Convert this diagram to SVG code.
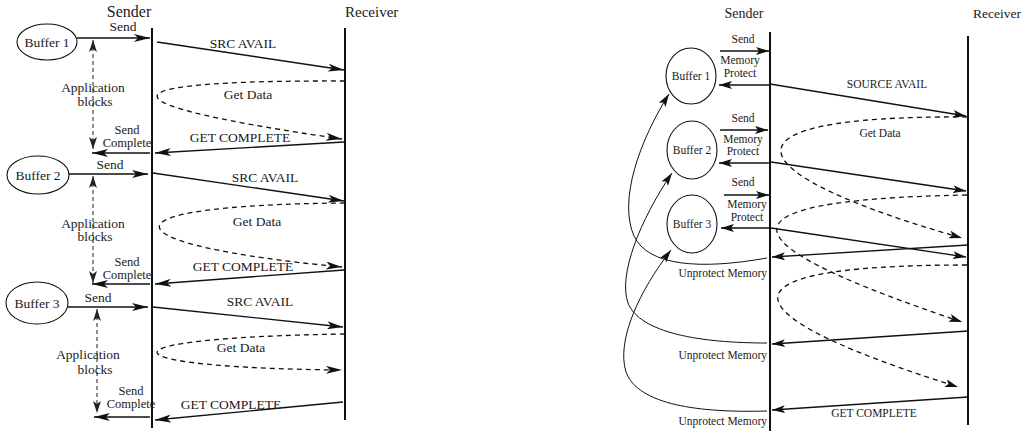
<svg xmlns="http://www.w3.org/2000/svg" width="1025" height="431" viewBox="0 0 1025 431">
<style>
text{font-family:"Liberation Serif","Times New Roman",serif;fill:#1a1a1a}
.L{font-size:13.5px;text-anchor:middle}
.S{font-size:12.5px;text-anchor:middle}
.R{font-size:11.5px;text-anchor:middle}
.H{font-size:15px;text-anchor:middle}
.life{stroke:#111;stroke-width:2;fill:none}
.msgL{stroke:#111;stroke-width:1.4;fill:none;marker-end:url(#aL)}
.msgR{stroke:#111;stroke-width:1.3;fill:none;marker-end:url(#aR)}
.dash{stroke:#111;stroke-width:1.3;fill:none;stroke-dasharray:5 4}
.blk{stroke:#444;stroke-width:1.2;fill:none;stroke-dasharray:4 3;marker-start:url(#aB);marker-end:url(#aB)}
.node{fill:#fff;stroke:#111;stroke-width:1.1}
.thin{stroke:#111;stroke-width:1;fill:none;marker-end:url(#aR)}
</style>
<defs>
<marker id="aL" markerUnits="userSpaceOnUse" markerWidth="16" markerHeight="8" refX="16" refY="4" orient="auto"><path d="M0,0 L16,4 L0,8 L4,4 z" fill="#111"/></marker>
<marker id="aR" markerUnits="userSpaceOnUse" markerWidth="13" markerHeight="8" refX="13" refY="4" orient="auto"><path d="M0,0 L13,4 L0,8 L3,4 z" fill="#111"/></marker>
<marker id="aB" markerUnits="userSpaceOnUse" markerWidth="12" markerHeight="8" refX="12" refY="4" orient="auto-start-reverse"><path d="M0,0 L12,4 L0,8 L3,4 z" fill="#222"/></marker>
</defs>

<!-- LEFT DIAGRAM -->
<g id="left-headers">
<text class="H" x="129" y="17" style="font-size:16px">Sender</text>
<text x="345" y="17" style="font-size:15px">Receiver</text>
</g>
<g id="left-lifelines">
<line class="life" x1="152" y1="28" x2="152" y2="428"/>
<line class="life" x1="345" y1="28" x2="345" y2="420"/>
</g>
<g id="L-buffer1"><ellipse class="node" cx="47" cy="42" rx="30" ry="18"/><text class="L" x="47" y="47">Buffer 1</text></g>
<g id="L-buffer2"><ellipse class="node" cx="38" cy="175" rx="31" ry="19"/><text class="L" x="38" y="180">Buffer 2</text></g>
<g id="L-buffer3"><ellipse class="node" cx="37" cy="303" rx="31" ry="21"/><text class="L" x="37" y="308">Buffer 3</text></g>

<g id="left-connectors">
<line class="msgL" x1="77" y1="38" x2="150" y2="38"/>
<line class="msgL" x1="157" y1="42" x2="344" y2="70"/>
<path class="dash" marker-end="url(#aL)" d="M345,81 C85,80 105,105 342,139"/>
<line class="msgL" x1="344" y1="142" x2="155" y2="153"/>
<line class="msgL" x1="150" y1="153" x2="92" y2="153"/>
<line class="blk" x1="93" y1="40" x2="93" y2="149"/>

<line class="msgL" x1="69" y1="174" x2="148" y2="174"/>
<line class="msgL" x1="153" y1="173" x2="344" y2="201"/>
<path class="dash" marker-end="url(#aL)" d="M345,203 C88,205 108,245 342,267"/>
<line class="msgL" x1="344" y1="270" x2="155" y2="284"/>
<line class="msgL" x1="150" y1="284" x2="92" y2="284"/>
<line class="blk" x1="93" y1="176" x2="93" y2="283"/>

<line class="msgL" x1="68" y1="307" x2="148" y2="307"/>
<line class="msgL" x1="153" y1="307" x2="343" y2="327"/>
<path class="dash" marker-end="url(#aL)" d="M345,334 C85,338 105,368 342,370"/>
<line class="msgL" x1="343" y1="402" x2="155" y2="420"/>
<line class="msgL" x1="150" y1="417" x2="94" y2="417"/>
<line class="blk" x1="97" y1="309" x2="97" y2="413"/>
</g>

<g id="left-labels">
<text class="L" x="123" y="31">Send</text>
<text class="L" x="243" y="48">SRC AVAIL</text>
<text class="L" x="248" y="99">Get Data</text>
<text class="L" x="93" y="92">Application</text>
<text class="L" x="95" y="106">blocks</text>
<text class="L" x="240" y="142">GET COMPLETE</text>
<text class="S" x="127" y="134">Send</text>
<text class="S" x="127" y="147">Complete</text>

<text class="L" x="110" y="169">Send</text>
<text class="L" x="265" y="182">SRC AVAIL</text>
<text class="L" x="257" y="226">Get Data</text>
<text class="L" x="93" y="228">Application</text>
<text class="L" x="95" y="241">blocks</text>
<text class="L" x="243" y="271">GET COMPLETE</text>
<text class="S" x="127" y="266">Send</text>
<text class="S" x="127" y="279">Complete</text>

<text class="L" x="98" y="302">Send</text>
<text class="L" x="260" y="306">SRC AVAIL</text>
<text class="L" x="241" y="352">Get Data</text>
<text class="L" x="88" y="359">Application</text>
<text class="L" x="95" y="374">blocks</text>
<text class="L" x="231" y="409">GET COMPLETE</text>
<text class="S" x="131" y="395">Send</text>
<text class="S" x="131" y="408">Complete</text>
</g>

<!-- RIGHT DIAGRAM -->
<g id="right-headers">
<text x="744" y="18" style="font-size:14px;text-anchor:middle">Sender</text>
<text x="973" y="18" style="font-size:13.5px">Receiver</text>
</g>
<g id="right-lifelines">
<line class="life" x1="770" y1="32" x2="770" y2="431"/>
<line class="life" x1="968" y1="36" x2="968" y2="425"/>
</g>
<g id="R-buffer1"><ellipse class="node" cx="691" cy="76" rx="25" ry="28"/><text class="R" x="691" y="80">Buffer 1</text></g>
<g id="R-buffer2"><ellipse class="node" cx="692" cy="150" rx="25" ry="29"/><text class="R" x="692" y="154">Buffer 2</text></g>
<g id="R-buffer3"><ellipse class="node" cx="692" cy="224" rx="25" ry="29"/><text class="R" x="692" y="228">Buffer 3</text></g>

<g id="right-connectors">
<line class="msgR" x1="720" y1="51" x2="769" y2="51"/>
<line class="msgR" x1="770" y1="85" x2="719" y2="85"/>
<line class="msgR" x1="770" y1="84" x2="966" y2="116"/>
<path class="dash" marker-end="url(#aR)" d="M967,117 C700,115 740,175 962,238"/>

<line class="msgR" x1="720" y1="130" x2="768" y2="130"/>
<line class="msgR" x1="770" y1="163" x2="719" y2="163"/>
<line class="msgR" x1="771" y1="162" x2="966" y2="191"/>
<path class="dash" marker-end="url(#aR)" d="M967,195 C694,200 735,246 962,322"/>

<line class="msgR" x1="724" y1="195" x2="769" y2="195"/>
<line class="msgR" x1="770" y1="228" x2="721" y2="228"/>
<line class="msgR" x1="771" y1="228" x2="966" y2="257"/>
<path class="dash" marker-end="url(#aR)" d="M967,265 C695,265 738,318 958,387"/>

<line class="msgR" x1="968" y1="245" x2="772" y2="257"/>
<line class="msgR" x1="968" y1="331" x2="772" y2="344"/>
<line class="msgR" x1="968" y1="397" x2="772" y2="410"/>

<path class="thin" d="M767,258 C700,270 648,266 634,236 C618,200 640,140 669,94"/>
<path class="thin" d="M767,343 C700,343 640,333 628,303 C618,275 640,220 672,173"/>
<path class="thin" d="M767,411 C700,413 638,405 626,372 C616,340 640,290 671,250"/>
</g>

<g id="right-labels">
<text class="R" x="743" y="43">Send</text>
<text class="R" x="740" y="64">Memory</text>
<text class="R" x="740" y="77">Protect</text>
<text class="R" x="887" y="88">SOURCE AVAIL</text>
<text class="R" x="880" y="137">Get Data</text>
<text class="R" x="743" y="122">Send</text>
<text class="R" x="743" y="143">Memory</text>
<text class="R" x="743" y="155">Protect</text>
<text class="R" x="743" y="186">Send</text>
<text class="R" x="747" y="208">Memory</text>
<text class="R" x="747" y="221">Protect</text>
<text class="R" x="767" y="277" style="text-anchor:end">Unprotect Memory</text>
<text class="R" x="767" y="359" style="text-anchor:end">Unprotect Memory</text>
<text class="R" x="767" y="425" style="text-anchor:end">Unprotect Memory</text>
<text class="R" x="874" y="417">GET COMPLETE</text>
</g>
</svg>
